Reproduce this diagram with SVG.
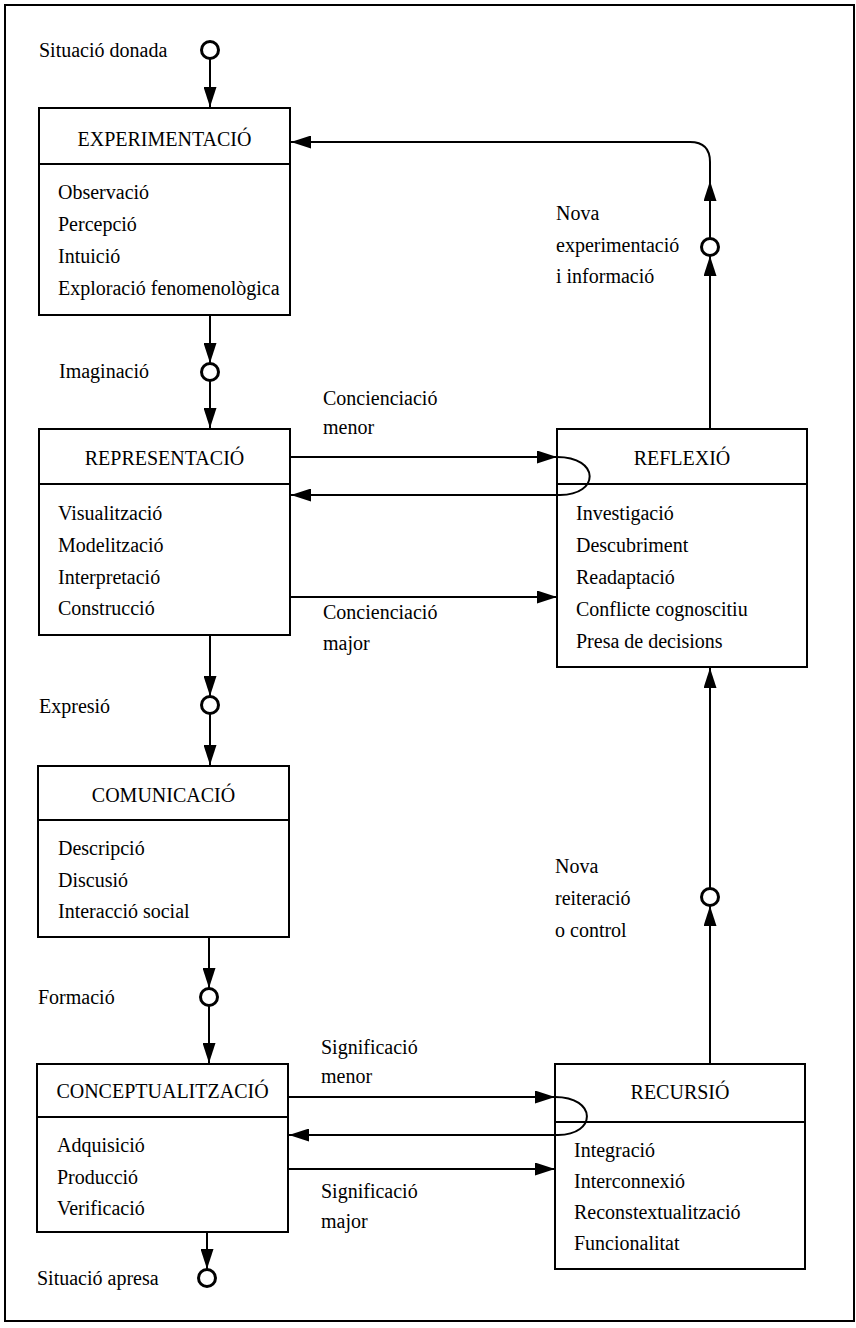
<svg xmlns="http://www.w3.org/2000/svg" width="856" height="1328" viewBox="0 0 856 1328">
<style>
text{font-family:"Liberation Serif","Times New Roman",serif;font-size:20px;fill:#000}
.t{text-anchor:middle}
.box{fill:#fff;stroke:#000;stroke-width:2}
.div{stroke:#000;stroke-width:2}
.ln{fill:none;stroke:#000;stroke-width:2}
.c{fill:#fff;stroke:#000;stroke-width:3}
</style>
<defs>
<marker id="ah" markerUnits="userSpaceOnUse" markerWidth="20" markerHeight="13" refX="20" refY="6.5" orient="auto">
<path d="M0,0 L20,6.5 L0,13 z" fill="#000"/>
</marker>
</defs>
<rect x="5" y="5" width="849" height="1316" fill="#fff" stroke="#000" stroke-width="2"/>

<g id="labels">
<text x="39" y="57">Situació donada</text>
<text x="59" y="378">Imaginació</text>
<text x="39" y="713">Expresió</text>
<text x="38" y="1004">Formació</text>
<text x="37" y="1285">Situació apresa</text>
<text x="323" y="405">Concienciació</text>
<text x="323" y="434">menor</text>
<text x="323" y="619">Concienciació</text>
<text x="323" y="650">major</text>
<text x="321" y="1054">Significació</text>
<text x="321" y="1083">menor</text>
<text x="321" y="1198">Significació</text>
<text x="321" y="1228">major</text>
<text x="556" y="220">Nova</text>
<text x="556" y="252">experimentació</text>
<text x="556" y="283">i informació</text>
<text x="555" y="873">Nova</text>
<text x="555" y="905">reiteració</text>
<text x="555" y="937">o control</text>
</g>

<g id="experimentacio">
<rect class="box" x="39" y="108" width="251" height="207"/>
<line class="div" x1="39" y1="164" x2="290" y2="164"/>
<text class="t" x="164.5" y="146">EXPERIMENTACIÓ</text>
<text x="58" y="199">Observació</text>
<text x="58" y="231">Percepció</text>
<text x="58" y="263">Intuició</text>
<text x="58" y="295">Exploració fenomenològica</text>
</g>

<g id="representacio">
<rect class="box" x="39" y="429" width="251" height="206"/>
<line class="div" x1="39" y1="484" x2="290" y2="484"/>
<text class="t" x="164.5" y="465">REPRESENTACIÓ</text>
<text x="58" y="520">Visualització</text>
<text x="58" y="552">Modelització</text>
<text x="58" y="584">Interpretació</text>
<text x="58" y="615">Construcció</text>
</g>

<g id="reflexio">
<rect class="box" x="557" y="429" width="250" height="238"/>
<line class="div" x1="557" y1="484" x2="807" y2="484"/>
<text class="t" x="682" y="465">REFLEXIÓ</text>
<text x="576" y="520">Investigació</text>
<text x="576" y="552">Descubriment</text>
<text x="576" y="584">Readaptació</text>
<text x="576" y="616">Conflicte cognoscitiu</text>
<text x="576" y="648">Presa de decisions</text>
</g>

<g id="comunicacio">
<rect class="box" x="38" y="766" width="251" height="171"/>
<line class="div" x1="38" y1="820" x2="289" y2="820"/>
<text class="t" x="163.5" y="802">COMUNICACIÓ</text>
<text x="58" y="855">Descripció</text>
<text x="58" y="887">Discusió</text>
<text x="58" y="918">Interacció social</text>
</g>

<g id="conceptualitzacio">
<rect class="box" x="37" y="1064" width="251" height="168"/>
<line class="div" x1="37" y1="1117" x2="288" y2="1117"/>
<text class="t" x="162.5" y="1098">CONCEPTUALITZACIÓ</text>
<text x="57" y="1152">Adquisició</text>
<text x="57" y="1184">Producció</text>
<text x="57" y="1215">Verificació</text>
</g>

<g id="recursio">
<rect class="box" x="555" y="1064" width="250" height="205"/>
<line class="div" x1="555" y1="1122" x2="805" y2="1122"/>
<text class="t" x="680" y="1099">RECURSIÓ</text>
<text x="574" y="1157">Integració</text>
<text x="574" y="1188">Interconnexió</text>
<text x="574" y="1219">Reconstextualització</text>
<text x="574" y="1250">Funcionalitat</text>
</g>

<g id="connectors">
<path class="ln" d="M210,59 L210,107" marker-end="url(#ah)"/>
<path class="ln" d="M210,315 L210,363" marker-end="url(#ah)"/>
<path class="ln" d="M210,381 L210,428" marker-end="url(#ah)"/>
<path class="ln" d="M210,635 L210,696" marker-end="url(#ah)"/>
<path class="ln" d="M210,714 L210,765" marker-end="url(#ah)"/>
<path class="ln" d="M209,937 L209,988" marker-end="url(#ah)"/>
<path class="ln" d="M209,1006 L209,1063" marker-end="url(#ah)"/>
<path class="ln" d="M207,1232 L207,1269" marker-end="url(#ah)"/>

<path class="ln" d="M710,1064 L710,906" marker-end="url(#ah)"/>
<path class="ln" d="M710,888 L710,668" marker-end="url(#ah)"/>
<path class="ln" d="M710,429 L710,256" marker-end="url(#ah)"/>
<path class="ln" d="M710,238 L710,181" marker-end="url(#ah)"/>
<path class="ln" d="M710,183 L710,162 Q710,142 690,142 L291,142" marker-end="url(#ah)"/>

<path class="ln" d="M290,457 L557,457" marker-end="url(#ah)"/>
<path class="ln" d="M557,457 C600,457 600,495 560,495 L291,495" marker-end="url(#ah)"/>
<path class="ln" d="M290,597 L557,597" marker-end="url(#ah)"/>

<path class="ln" d="M288,1097 L555,1097" marker-end="url(#ah)"/>
<path class="ln" d="M555,1097 C597,1097 597,1135 558,1135 L289,1135" marker-end="url(#ah)"/>
<path class="ln" d="M288,1169 L555,1169" marker-end="url(#ah)"/>

<circle class="c" cx="210" cy="50" r="8.5"/>
<circle class="c" cx="210" cy="372" r="8.5"/>
<circle class="c" cx="210" cy="705" r="8.5"/>
<circle class="c" cx="209" cy="997" r="8.5"/>
<circle class="c" cx="207" cy="1278" r="8.5"/>
<circle class="c" cx="710" cy="247" r="8.5"/>
<circle class="c" cx="710" cy="897" r="8.5"/>
</g>
</svg>
